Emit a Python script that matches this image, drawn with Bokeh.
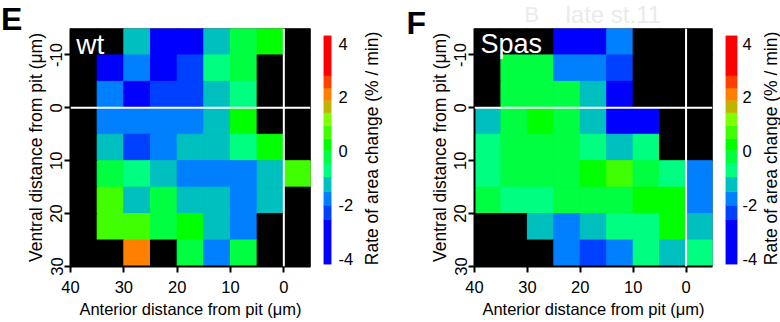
import numpy as np
from bokeh.plotting import figure
from bokeh.models import Range1d, FixedTicker, Span
from bokeh.layouts import row, column
from bokeh.embed import file_html
from bokeh.resources import INLINE
from bokeh.core.properties import value

N = None
# grid cell centres (µm)
x_centers = [37.5, 32.5, 27.5, 22.5, 17.5, 12.5, 7.5, 2.5, -2.5]
y_centers = [-12.5, -7.5, -2.5, 2.5, 7.5, 12.5, 17.5, 22.5, 27.5]

# rate of area change (% / min), rows top (-12.5) to bottom (27.5), None = no data (black)
wt_rates = [
    [N, N, -1.2, -3.2, -3.2, -1.2, -0.2, 0.25, N],
    [N, -3.1, -1.75, -3.1, -2.25, -0.7, -0.2, N, N],
    [N, -1.75, -3.3, -2.25, -2.25, -1.2, -0.7, N, N],
    [N, -1.75, -1.75, -1.75, -1.75, -1.2, 0.25, N, N],
    [N, -1.2, -2.25, -1.75, -1.2, -1.2, -0.7, 0.25, N],
    [N, -0.2, -0.7, -1.2, -1.75, -1.75, -1.75, -1.2, 0.7],
    [N, 0.7, -1.2, -0.2, -1.2, -1.2, -1.75, -1.2, N],
    [N, 0.7, 0.7, -0.2, 0.25, -1.2, -1.75, N, N],
    [N, N, 2.1, N, -0.2, -1.75, -0.2, N, N],
]
spas_rates = [
    [N, N, N, -3.2, -3.2, -1.75, N, N, N],
    [N, -0.2, -0.2, -1.75, -1.75, -2.25, N, N, N],
    [N, -0.2, -0.2, -0.2, -1.2, -3.1, N, N, N],
    [-1.2, -0.2, 0.25, -0.2, -1.2, -3.1, -3.1, N, N],
    [-0.7, -0.2, -0.2, -0.2, -0.7, -1.2, -0.7, N, N],
    [-0.7, -0.2, -0.2, -0.2, 0.25, 0.7, -0.2, -0.7, -1.75],
    [-0.2, -0.7, -0.7, -0.2, -0.2, -0.2, 0.25, 0.25, -1.75],
    [N, N, -1.2, -1.75, -1.2, -0.7, -0.7, 0.25, -1.2],
    [N, N, N, -1.75, -2.25, -1.75, -0.7, -1.2, -0.7],
]

x_ticks = [40, 30, 20, 10, 0]
y_ticks = [-10, 0, 10, 20, 30]
cb_ticks = [-4, -2, 0, 2, 4]
cb_bounds = [-4.2, -2.53, -2.0, -1.5, -0.95, -0.46, 0.04, 0.47, 0.96, 1.43, 1.89, 2.35, 2.81, 4.3]
cb_colors = ["#0000ff", "#0040ff", "#0080ff", "#00bfbf", "#00ff80", "#00ff40", "#00ff00",
             "#40ff00", "#80ff00", "#bfb400", "#ff8000", "#ff4000", "#ff0000"]

x_title = "Anterior distance from pit (μm)"
y_title = "Ventral distance from pit (μm)"
cb_title = "Rate of area change (% / min)"

FONT = "Liberation Sans"
H = 322


def no_align(f):
    # keep every figure's frame exactly where its own borders put it
    try:
        f.frame_align = False
    except Exception:
        pass
    return f


def color_for(v):
    if v is None:
        return "black"
    idx = int(np.digitize(v, cb_bounds[1:-1]))
    return cb_colors[idx]


def blank(width, height):
    # frame covers the whole canvas; y measured from the bottom of the canvas
    f = figure(frame_width=width, frame_height=height, title=None,
               x_range=Range1d(0, width), y_range=Range1d(0, height),
               x_axis_location=None, y_axis_location=None,
               output_backend="svg", toolbar_location=None, min_border=0)
    f.outline_line_color = None
    f.grid.visible = False
    return no_align(f)


def style_axis(ax, size):
    ax.axis_line_color = "black"
    ax.axis_line_width = 2
    ax.major_tick_line_color = "black"
    ax.major_tick_line_width = 2
    ax.major_tick_out = 6
    ax.major_tick_in = 0
    ax.minor_tick_line_color = None
    ax.major_label_text_font = FONT
    ax.major_label_text_font_size = size
    ax.major_label_text_color = "black"
    ax.axis_label_text_font = FONT
    ax.axis_label_text_font_style = "normal"
    ax.axis_label_text_color = "black"


def heatmap(rates, name, name_size, width, height, border_left, border_top, name_x, name_y):
    p = figure(width=width, height=height, title=None,
               x_range=Range1d(40, -5), y_range=Range1d(30, -15),
               output_backend="svg", toolbar_location=None,
               min_border_left=border_left, min_border_right=2,
               min_border_top=border_top, min_border_bottom=56)
    no_align(p)
    p.background_fill_color = "black"
    p.border_fill_color = "white"
    p.outline_line_color = None
    p.xgrid.visible = False
    p.ygrid.visible = False

    xs, ys, cs = [], [], []
    for r, yc in enumerate(y_centers):
        for c, xc in enumerate(x_centers):
            xs.append(xc)
            ys.append(yc)
            cs.append(color_for(rates[r][c]))
    p.rect(x=xs, y=ys, width=5, height=5, fill_color=cs, line_color=cs, line_width=1)

    p.add_layout(Span(location=0, dimension="height", line_color="white", line_width=2))
    p.add_layout(Span(location=0, dimension="width", line_color="white", line_width=2))

    xa = p.xaxis[0]
    ya = p.yaxis[0]
    style_axis(xa, "16.5px")
    style_axis(ya, "16.5px")
    xa.ticker = FixedTicker(ticks=x_ticks)
    ya.ticker = FixedTicker(ticks=y_ticks)
    xa.major_label_overrides = {t: str(t) for t in x_ticks}
    ya.major_label_overrides = {t: str(t) for t in y_ticks}
    xa.axis_label = x_title
    ya.axis_label = y_title
    xa.axis_label_text_font_size = "16.5px"
    ya.axis_label_text_font_size = "17.5px"
    xa.major_label_standoff = 8
    xa.axis_label_standoff = 4
    ya.major_label_orientation = "vertical"
    ya.major_label_standoff = 2
    ya.axis_label_standoff = 2

    p.text(x=[name_x], y=[name_y], text=[name], text_color="white",
           text_font=value(FONT), text_font_size=name_size,
           text_align="left", text_baseline="middle")
    return p


def colorbar(width, border_left, border_right, standoff):
    c = figure(width=width, height=H, title=None, x_range=Range1d(0, 1),
               y_range=Range1d(cb_bounds[0], cb_bounds[-1]),
               x_axis_location=None, y_axis_location="right",
               output_backend="svg", toolbar_location=None,
               min_border_left=border_left, min_border_right=border_right,
               min_border_top=35, min_border_bottom=58)
    no_align(c)
    c.outline_line_color = None
    c.xgrid.visible = False
    c.ygrid.visible = False
    c.quad(left=0, right=1, bottom=cb_bounds[:-1], top=cb_bounds[1:],
           fill_color=cb_colors, line_color=cb_colors, line_width=0.5)
    ax = c.yaxis[0]
    style_axis(ax, "16.5px")
    ax.ticker = FixedTicker(ticks=cb_ticks)
    ax.major_label_overrides = {t: str(t) for t in cb_ticks}
    ax.axis_line_color = None
    ax.major_tick_line_color = None
    ax.major_tick_out = 0
    ax.major_label_standoff = standoff
    return c


def title_fig(width, cx):
    t = blank(width, H)
    t.text(x=[cx], y=[H - 148], text=[cb_title], angle=np.pi / 2,
           text_align="center", text_baseline="middle", text_color="black",
           text_font=value(FONT), text_font_size="17.5px")
    return t


def letter_fig(width, letter, lx, mid):
    f = blank(width, H)
    f.text(x=[lx], y=[H - mid], text=[letter], text_color="black",
           text_font=value(FONT), text_font_size="32px", text_font_style="bold",
           text_align="left", text_baseline="middle")
    return f


let_e = letter_fig(22, "E", 0.5, 18)
pe = heatmap(wt_rates, "wt", "28px", 290, H, 48, 28, 38.9, -11.97)
ce = colorbar(44, 11, 22, 7)
le = title_fig(34, 15)

let_f = letter_fig(36, "F", 16, 22)
strip = blank(288, 28)
# faint stray text visible at the top of panel F
strip.text(x=[139], y=[28 - 13.5], text=["late st.11"], text_color="#ebebeb",
           text_font=value(FONT), text_font_size="24px",
           text_align="left", text_baseline="middle")
strip.text(x=[98], y=[28 - 14], text=["B"], text_color="#ebebeb",
           text_font=value(FONT), text_font_size="22px",
           text_align="left", text_baseline="middle")
pf = heatmap(spas_rates, "Spas", "27px", 288, H - 28, 47, 0, 38.87, -12.16)
cf = colorbar(46, 11, 23, 5)
lf = title_fig(20, 10)

layout = row(let_e, pe, ce, le, let_f, column(strip, pf, spacing=0), cf, lf, spacing=0)
open("out.html", "w").write(file_html(layout, INLINE))
